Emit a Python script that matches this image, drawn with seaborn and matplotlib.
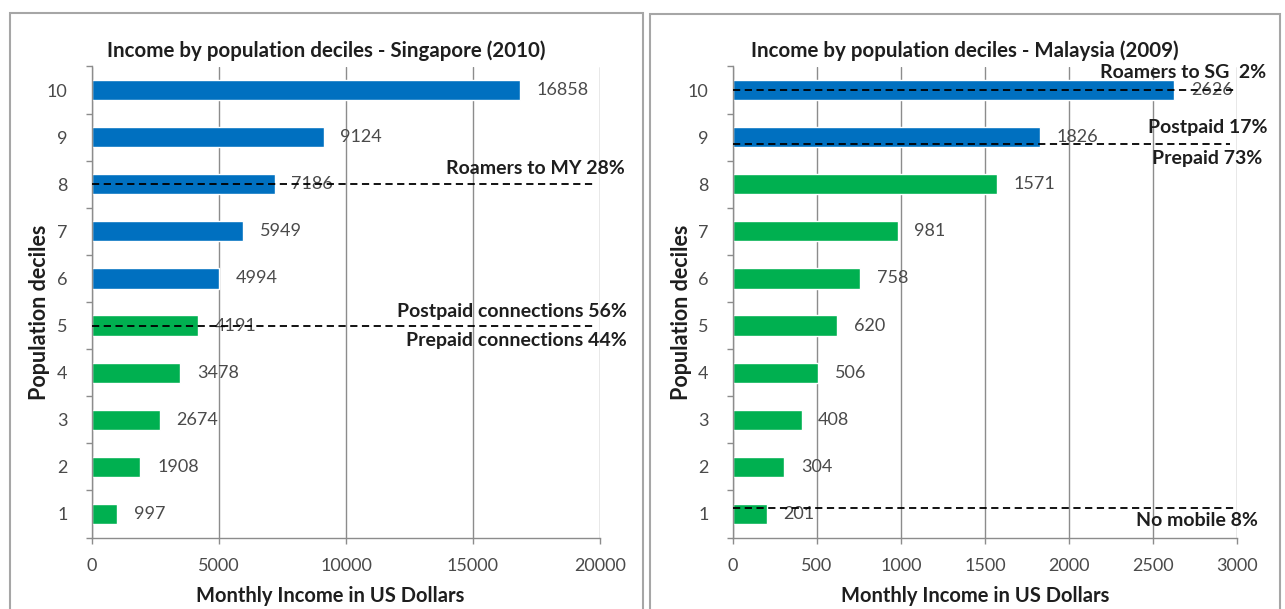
import matplotlib
matplotlib.use("Agg")
import matplotlib.pyplot as plt
from matplotlib.patches import Rectangle
from matplotlib.ticker import MultipleLocator
import seaborn as sns
import pandas as pd

# Monthly income per population decile (US$)
deciles = ["10", "9", "8", "7", "6", "5", "4", "3", "2", "1"]
sg_income = [16858, 9124, 7186, 5949, 4994, 4191, 3478, 2674, 1908, 997]
my_income = [2626, 1826, 1571, 981, 758, 620, 506, 408, 304, 201]
# Deciles where postpaid dominates are drawn blue, prepaid green
sg_tier = ["upper", "upper", "upper", "upper", "upper",
           "lower", "lower", "lower", "lower", "lower"]
my_tier = ["upper", "upper", "lower", "lower", "lower",
           "lower", "lower", "lower", "lower", "lower"]

BLUE = "#0070C0"
GREEN = "#00B050"
GRID = "#8c8c8c"
TXT = "#4a4a4a"
DARK = "#1e1e1e"

sns.set_theme(style="white")
plt.rcParams["font.family"] = ["Lato", "DejaVu Sans"]

W, H = 1285, 609
fig = plt.figure(figsize=(W / 100, H / 100), dpi=100)


def px_axes(x0, x1, ytop, ybot):
    return fig.add_axes([x0 / W, (H - ybot) / H, (x1 - x0) / W, (ybot - ytop) / H])


def draw_panel(ax, values, tiers, xmax, step, title, title_x, xlabel_x):
    df = pd.DataFrame({"decile": deciles, "income": values, "tier": tiers})
    sns.barplot(data=df, x="income", y="decile", hue="tier", order=deciles,
                palette={"upper": BLUE, "lower": GREEN}, width=0.43,
                dodge=False, legend=False, ax=ax, saturation=1)
    ax.set_xlim(0, xmax)
    ax.set_ylim(9.5, -0.5)
    ax.xaxis.set_major_locator(MultipleLocator(step))
    ax.grid(axis="x", color=GRID, lw=1)
    ax.set_axisbelow(True)
    for s in ("top", "right"):
        ax.spines[s].set_visible(False)
    for s in ("left", "bottom"):
        ax.spines[s].set_color(GRID)
        ax.spines[s].set_linewidth(1)
    ax.tick_params(axis="x", colors=TXT, labelsize=13, length=4, width=1,
                   color=GRID, direction="out", bottom=True, pad=11)
    ax.tick_params(axis="y", colors=TXT, labelsize=13, length=0, pad=17.5)
    ax.set_yticks([i + 0.5 for i in range(-1, 10)], minor=True)
    ax.tick_params(axis="y", which="minor", length=4, width=1, color=GRID,
                   direction="out", left=True)
    for lab in ax.get_xticklabels() + ax.get_yticklabels():
        lab.set_color(TXT)
    for cont in ax.containers:
        ax.bar_label(cont, fmt="%d", padding=12, color=TXT, fontsize=13)
    ax.set_title(title, fontsize=14.8, fontweight="bold", color=DARK, pad=7,
                 x=title_x)
    ax.set_xlabel("Monthly Income in US Dollars", fontsize=14.5,
                  fontweight="bold", color=DARK)
    ax.xaxis.set_label_coords(xlabel_x, -0.103)
    ax.set_ylabel("Population deciles", fontsize=15.5, fontweight="bold",
                  color=DARK)
    ax.yaxis.set_label_coords(-0.082, 0.479)


def dashed(ax, y, x0, x1):
    ax.plot([x0, x1], [y, y], ls=(0, (4, 2.5)), color="black", lw=1.3,
            zorder=5, clip_on=False)


def note(ax, x, y, text):
    ax.annotate(text, xy=(x, y), xycoords=("figure pixels", "data"),
                ha="right", va="center", fontsize=14, fontweight="bold",
                color=DARK, annotation_clip=False)


# Singapore
ax1 = px_axes(92, 600, 66.5, 537.5)
draw_panel(ax1, sg_income, sg_tier, 20000, 5000,
           "Income by population deciles - Singapore (2010)", 0.461, 0.468)
dashed(ax1, 2.0, 0, 19800)
dashed(ax1, 5.0, 0, 19800)

# Malaysia
ax2 = px_axes(733, 1237, 66.5, 537.5)
draw_panel(ax2, my_income, my_tier, 3000, 500,
           "Income by population deciles - Malaysia (2009)", 0.46, 0.48)
dashed(ax2, 0.0, 0, 3000)
dashed(ax2, 1.15, 0, 2960)
dashed(ax2, 8.87, 0, 2990)

note(ax1, 625, 1.67, "Roamers to MY 28%")
note(ax1, 627, 4.7, "Postpaid connections 56%")
note(ax1, 627, 5.32, "Prepaid connections 44%")
note(ax2, 1266, -0.38, "Roamers to SG  2%")
note(ax2, 1268, 0.8, "Postpaid 17%")
note(ax2, 1262, 1.45, "Prepaid 73%")
note(ax2, 1258, 9.13, "No mobile 8%")

# Chart-area frames
for x0, x1, y0 in ((10, 643, 13), (650, 1280, 14)):
    fig.patches.append(Rectangle((x0 / W, -0.01), (x1 - x0) / W,
                                 (H - y0) / H + 0.01, transform=fig.transFigure,
                                 fill=False, ec="#a6a6a6", lw=1.5))

fig.savefig("out.png", dpi=100)
